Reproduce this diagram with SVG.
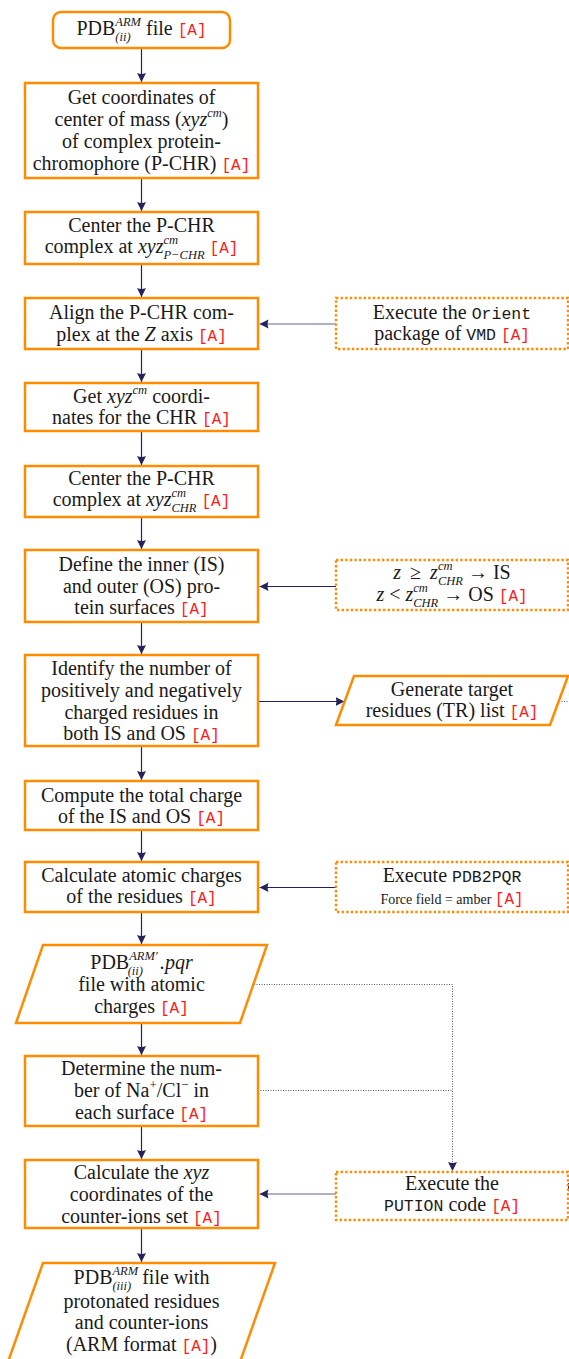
<svg xmlns="http://www.w3.org/2000/svg" width="569" height="1359" viewBox="0 0 569 1359">
<style>
.t{font-family:"Liberation Serif","Times New Roman",serif;font-size:20px;fill:#1a1a1a;text-anchor:middle}
.i{font-style:italic}
.s{font-size:12.5px;font-style:italic}
.su{font-size:13px}
.m{font-family:"Liberation Mono",monospace;font-size:16.5px}
.r{font-family:"Liberation Mono",monospace;font-size:16px;fill:#ff1a1a}
.sm{font-size:14px}
.box{fill:#fff;stroke:#ff8c00;stroke-width:2.5}
.dot{fill:#fff;stroke:#ff8c00;stroke-width:2.4;stroke-dasharray:2.4 2.2}
.c{stroke:#26235a;stroke-width:1.2;fill:none}
.cd{stroke:#5a5880;stroke-width:1;stroke-dasharray:1 1.5;fill:none}
</style>
<defs>
<marker id="ah" viewBox="0 0 10 10" refX="10" refY="5" markerWidth="9" markerHeight="10" markerUnits="userSpaceOnUse" orient="auto">
<path d="M0,0 L10,5 L0,10 Q2,5 0,0 z" fill="#26235a"/>
</marker>
</defs>
<rect width="569" height="1359" fill="#fff"/>

<g id="connectors">
<line class="c" x1="141.5" y1="48" x2="141.5" y2="82" marker-end="url(#ah)"/>
<line class="c" x1="141.5" y1="178" x2="141.5" y2="211" marker-end="url(#ah)"/>
<line class="c" x1="141.5" y1="264" x2="141.5" y2="297" marker-end="url(#ah)"/>
<line class="c" x1="141.5" y1="349" x2="141.5" y2="382" marker-end="url(#ah)"/>
<line class="c" x1="141.5" y1="431" x2="141.5" y2="465" marker-end="url(#ah)"/>
<line class="c" x1="141.5" y1="517" x2="141.5" y2="549" marker-end="url(#ah)"/>
<line class="c" x1="141.5" y1="622" x2="141.5" y2="654" marker-end="url(#ah)"/>
<line class="c" x1="141.5" y1="746" x2="141.5" y2="780" marker-end="url(#ah)"/>
<line class="c" x1="141.5" y1="830" x2="141.5" y2="861" marker-end="url(#ah)"/>
<line class="c" x1="141.5" y1="912" x2="141.5" y2="944" marker-end="url(#ah)"/>
<line class="c" x1="141.5" y1="1023" x2="141.5" y2="1055" marker-end="url(#ah)"/>
<line class="c" x1="141.5" y1="1126" x2="141.5" y2="1159" marker-end="url(#ah)"/>
<line class="c" x1="141.5" y1="1228" x2="141.5" y2="1262" marker-end="url(#ah)"/>
<line class="c" x1="336" y1="324" x2="259.5" y2="324" marker-end="url(#ah)" stroke-opacity="0.7"/>
<line class="c" x1="336" y1="586.5" x2="259.5" y2="586.5" marker-end="url(#ah)"/>
<line class="c" x1="336" y1="887.5" x2="259.5" y2="887.5" marker-end="url(#ah)"/>
<line class="c" x1="336" y1="1194" x2="259.5" y2="1194" marker-end="url(#ah)" stroke-opacity="0.7"/>
<line class="c" x1="258" y1="701.5" x2="344.5" y2="701.5" marker-end="url(#ah)"/>
<path class="cd" d="M559,701.5 H569"/>
<path class="cd" d="M254,984.5 H452.5 V1171" marker-end="url(#ah)"/>
<path class="cd" d="M258,1090.5 H452.5"/>
<polygon points="564,1183 572,1183 568,1192" fill="#26235a"/>
</g>

<g id="n1">
<rect class="box" x="53" y="12" width="177" height="36" rx="8"/>
<text class="t" x="141.5" y="35">PDB<tspan class="s" dy="-9">ARM</tspan><tspan class="s" dx="-25.7" dy="15">(ii)</tspan><tspan dx="10.5" dy="-6"> file </tspan><tspan class="r">[A]</tspan></text>
</g>

<g id="n2">
<rect class="box" x="25" y="83" width="233" height="95"/>
<text class="t" x="141.5" y="104">Get coordinates of</text>
<text class="t" x="141.5" y="126">center of mass (<tspan class="i">xyz</tspan><tspan class="s" dy="-9">cm</tspan><tspan dy="9">)</tspan></text>
<text class="t" x="141.5" y="148">of complex protein-</text>
<text class="t" x="141.5" y="170">chromophore (P-CHR) <tspan class="r">[A]</tspan></text>
</g>

<g id="n3">
<rect class="box" x="25" y="212" width="233" height="52"/>
<text class="t" x="141.5" y="232">Center the P-CHR</text>
<text class="t" x="141.5" y="253">complex at <tspan class="i">xyz</tspan><tspan class="s" dy="-9">cm</tspan><tspan class="s" dx="-14.6" dy="15">P−CHR</tspan><tspan dy="-6"> </tspan><tspan class="r">[A]</tspan></text>
</g>

<g id="n4">
<rect class="box" x="25" y="298" width="233" height="51"/>
<text class="t" x="141.5" y="319">Align the P-CHR com-</text>
<text class="t" x="141.5" y="341">plex at the <tspan class="i">Z</tspan> axis <tspan class="r">[A]</tspan></text>
</g>

<g id="n_orient">
<rect class="dot" x="336" y="298" width="232" height="51"/>
<text class="t" x="452" y="319">Execute the <tspan class="m">Orient</tspan></text>
<text class="t" x="452" y="340">package of <tspan class="m">VMD</tspan> <tspan class="r">[A]</tspan></text>
</g>

<g id="n5">
<rect class="box" x="25" y="383" width="233" height="48"/>
<text class="t" x="141.5" y="403">Get <tspan class="i">xyz</tspan><tspan class="s" dy="-9">cm</tspan><tspan dy="9"> coordi-</tspan></text>
<text class="t" x="141.5" y="424">nates for the CHR <tspan class="r">[A]</tspan></text>
</g>

<g id="n6">
<rect class="box" x="25" y="466" width="233" height="51"/>
<text class="t" x="141.5" y="485">Center the P-CHR</text>
<text class="t" x="141.5" y="506">complex at <tspan class="i">xyz</tspan><tspan class="s" dy="-9">cm</tspan><tspan class="s" dx="-14.6" dy="15">CHR</tspan><tspan dy="-6"> </tspan><tspan class="r">[A]</tspan></text>
</g>

<g id="n7">
<rect class="box" x="25" y="550" width="233" height="72"/>
<text class="t" x="141.5" y="571">Define the inner (IS)</text>
<text class="t" x="141.5" y="593">and outer (OS) pro-</text>
<text class="t" x="141.5" y="614">tein surfaces <tspan class="r">[A]</tspan></text>
</g>

<g id="n_isos">
<rect class="dot" x="336" y="560" width="232" height="50"/>
<text class="t" x="452" y="579"><tspan class="i">z</tspan><tspan dx="9">≥</tspan><tspan class="i" dx="9">z</tspan><tspan class="s" dy="-9">cm</tspan><tspan class="s" dx="-14.6" dy="15">CHR</tspan><tspan dy="-6"> → IS</tspan></text>
<text class="t" x="452" y="601"><tspan class="i">z</tspan><tspan dx="5">&lt;</tspan><tspan class="i" dx="5">z</tspan><tspan class="s" dy="-9">cm</tspan><tspan class="s" dx="-14.6" dy="15">CHR</tspan><tspan dy="-6"> → OS </tspan><tspan class="r">[A]</tspan></text>
</g>

<g id="n8">
<rect class="box" x="25" y="655" width="233" height="91"/>
<text class="t" x="141.5" y="675">Identify the number of</text>
<text class="t" x="141.5" y="697">positively and negatively</text>
<text class="t" x="141.5" y="719">charged residues in</text>
<text class="t" x="141.5" y="740">both IS and OS <tspan class="r">[A]</tspan></text>
</g>

<g id="n_target">
<polygon class="box" points="354,676 568,676 550,725 336,725"/>
<text class="t" x="452" y="696">Generate target</text>
<text class="t" x="452" y="717">residues (TR) list <tspan class="r">[A]</tspan></text>
</g>

<g id="n9">
<rect class="box" x="25" y="781" width="233" height="49"/>
<text class="t" x="141.5" y="802">Compute the total charge</text>
<text class="t" x="141.5" y="823">of the IS and OS <tspan class="r">[A]</tspan></text>
</g>

<g id="n10">
<rect class="box" x="25" y="862" width="233" height="50"/>
<text class="t" x="141.5" y="882">Calculate atomic charges</text>
<text class="t" x="141.5" y="903">of the residues <tspan class="r">[A]</tspan></text>
</g>

<g id="n_pdb2pqr">
<rect class="dot" x="336" y="862" width="232" height="50"/>
<text class="t" x="452" y="882">Execute <tspan class="m">PDB2PQR</tspan></text>
<text class="t" x="452" y="904"><tspan class="sm">Force field = amber </tspan><tspan class="r">[A]</tspan></text>
</g>

<g id="n_pqr">
<polygon class="box" points="43,945 267,945 240,1023 16,1023"/>
<text class="t" x="141.5" y="969">PDB<tspan class="s" dy="-9">ARM′</tspan><tspan class="s" dx="-30" dy="15">(ii)</tspan><tspan class="i" dx="17" dy="-6">.pqr</tspan></text>
<text class="t" x="141.5" y="991">file with atomic</text>
<text class="t" x="141.5" y="1013">charges <tspan class="r">[A]</tspan></text>
</g>

<g id="n11">
<rect class="box" x="25" y="1056" width="233" height="70"/>
<text class="t" x="141.5" y="1075">Determine the num-</text>
<text class="t" x="141.5" y="1097">ber of Na<tspan class="su" dy="-8">+</tspan><tspan dy="8">/Cl</tspan><tspan class="su" dy="-8">−</tspan><tspan dy="8"> in</tspan></text>
<text class="t" x="141.5" y="1119">each surface <tspan class="r">[A]</tspan></text>
</g>

<g id="n12">
<rect class="box" x="25" y="1160" width="233" height="68"/>
<text class="t" x="141.5" y="1179">Calculate the <tspan class="i">xyz</tspan></text>
<text class="t" x="141.5" y="1201">coordinates of the</text>
<text class="t" x="141.5" y="1223">counter-ions set <tspan class="r">[A]</tspan></text>
</g>

<g id="n_pution">
<rect class="dot" x="336" y="1172" width="232" height="48"/>
<text class="t" x="452" y="1190">Execute the</text>
<text class="t" x="452" y="1211"><tspan class="m">PUTION</tspan> code <tspan class="r">[A]</tspan></text>
</g>

<g id="n13">
<polygon class="box" points="43,1263 275,1263 226.5,1400 -5.5,1400"/>
<text class="t" x="141.5" y="1284">PDB<tspan class="s" dy="-9">ARM</tspan><tspan class="s" dx="-25.7" dy="15">(iii)</tspan><tspan dx="6" dy="-6"> file with</tspan></text>
<text class="t" x="141.5" y="1308">protonated residues</text>
<text class="t" x="141.5" y="1329">and counter-ions</text>
<text class="t" x="141.5" y="1351">(ARM format <tspan class="r">[A]</tspan>)</text>
</g>
</svg>
